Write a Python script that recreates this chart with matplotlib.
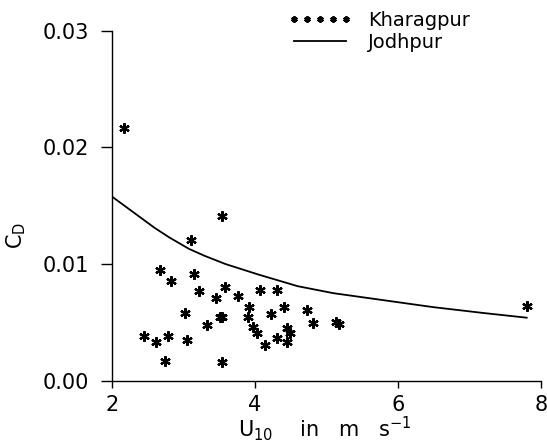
import matplotlib
matplotlib.use("Agg")
import matplotlib.pyplot as plt

# Kharagpur observations (U10 in m/s, C_D)
khar_u = [2.17, 3.544, 3.112, 2.676, 3.150, 2.825, 3.220, 3.582, 3.452, 3.763,
          4.070, 4.316, 3.916, 4.404, 4.729, 3.024, 3.508, 3.544, 3.907, 4.233,
          4.813, 5.133, 5.171, 3.335, 3.972, 4.032, 4.450, 4.498, 2.457, 2.624,
          2.792, 3.052, 4.316, 4.456, 4.149, 2.741, 3.544, 7.80]
khar_cd = [0.0217, 0.01412, 0.01206, 0.00949, 0.00915, 0.00857, 0.00769, 0.00801, 0.00706, 0.00726,
           0.00777, 0.00777, 0.00629, 0.00629, 0.00606, 0.00583, 0.00543, 0.00549, 0.00549, 0.00572,
           0.00497, 0.00506, 0.00483, 0.00477, 0.00463, 0.00411, 0.00449, 0.00411, 0.00383, 0.00332,
           0.00383, 0.00349, 0.00363, 0.00334, 0.00306, 0.00169, 0.00160, 0.0064]

# Jodhpur curve
jod_u = [2.0, 2.2, 2.4, 2.6, 2.8, 3.08, 3.3, 3.59, 4.05, 4.6, 5.1, 5.8, 6.5, 7.2, 7.8]
jod_cd = [0.0158, 0.0149, 0.0140, 0.0131, 0.0123, 0.0113, 0.0107, 0.0100, 0.0091, 0.0081,
          0.0075, 0.0069, 0.0063, 0.0058, 0.0054]

xticks = [2, 4, 6, 8]
yticks = [0.00, 0.01, 0.02, 0.03]
ytick_labels = ["0.00", "0.01", "0.02", "0.03"]

plt.rcParams['font.family'] = ['DejaVu Sans']
fig = plt.figure(figsize=(5.47, 4.44), dpi=100)
ax = fig.add_axes([111.7 / 547, 1 - 380.7 / 444, (541 - 111.7) / 547, 350 / 444])

asterisk = (6, 2, 0)
ax.plot(khar_u, khar_cd, linestyle='none', marker=asterisk, markersize=7.5,
        markeredgewidth=1.6, color='black', label='Kharagpur')
ax.plot(jod_u, jod_cd, color='black', linewidth=1.3, label='Jodhpur')

ax.set_xlim(2, 8)
ax.set_ylim(0, 0.03)
ax.set_xticks(xticks)
ax.set_xticklabels([str(t) for t in xticks])
ax.set_yticks(yticks)
ax.set_yticklabels(ytick_labels)
for s in ['top', 'right']:
    ax.spines[s].set_visible(False)
for s in ['left', 'bottom']:
    ax.spines[s].set_linewidth(1.0)
ax.tick_params(axis='y', direction='out', length=8, width=1.0, labelsize=15, pad=8.5)
ax.tick_params(axis='x', direction='out', length=5, width=1.0, labelsize=15, pad=5.5)

fig.text(16 / 547, 1 - 235 / 444, r'C$_\mathregular{D}$', fontsize=15, rotation=90,
         ha='center', va='center')
fig.text(238 / 547, 1.5 / 444, r'U$_{10}$    in   m   s$^{-1}$', fontsize=15,
         ha='left', va='bottom')

leg = ax.legend(loc='upper left', bbox_to_anchor=(288 / 547, 1 - 11 / 444),
                bbox_transform=fig.transFigure, frameon=False, numpoints=5,
                fontsize=14, handlelength=3.3, handletextpad=0.8, labelspacing=0.15,
                markerscale=0.6, borderpad=0, borderaxespad=0)

fig.savefig('out.png', dpi=100)
